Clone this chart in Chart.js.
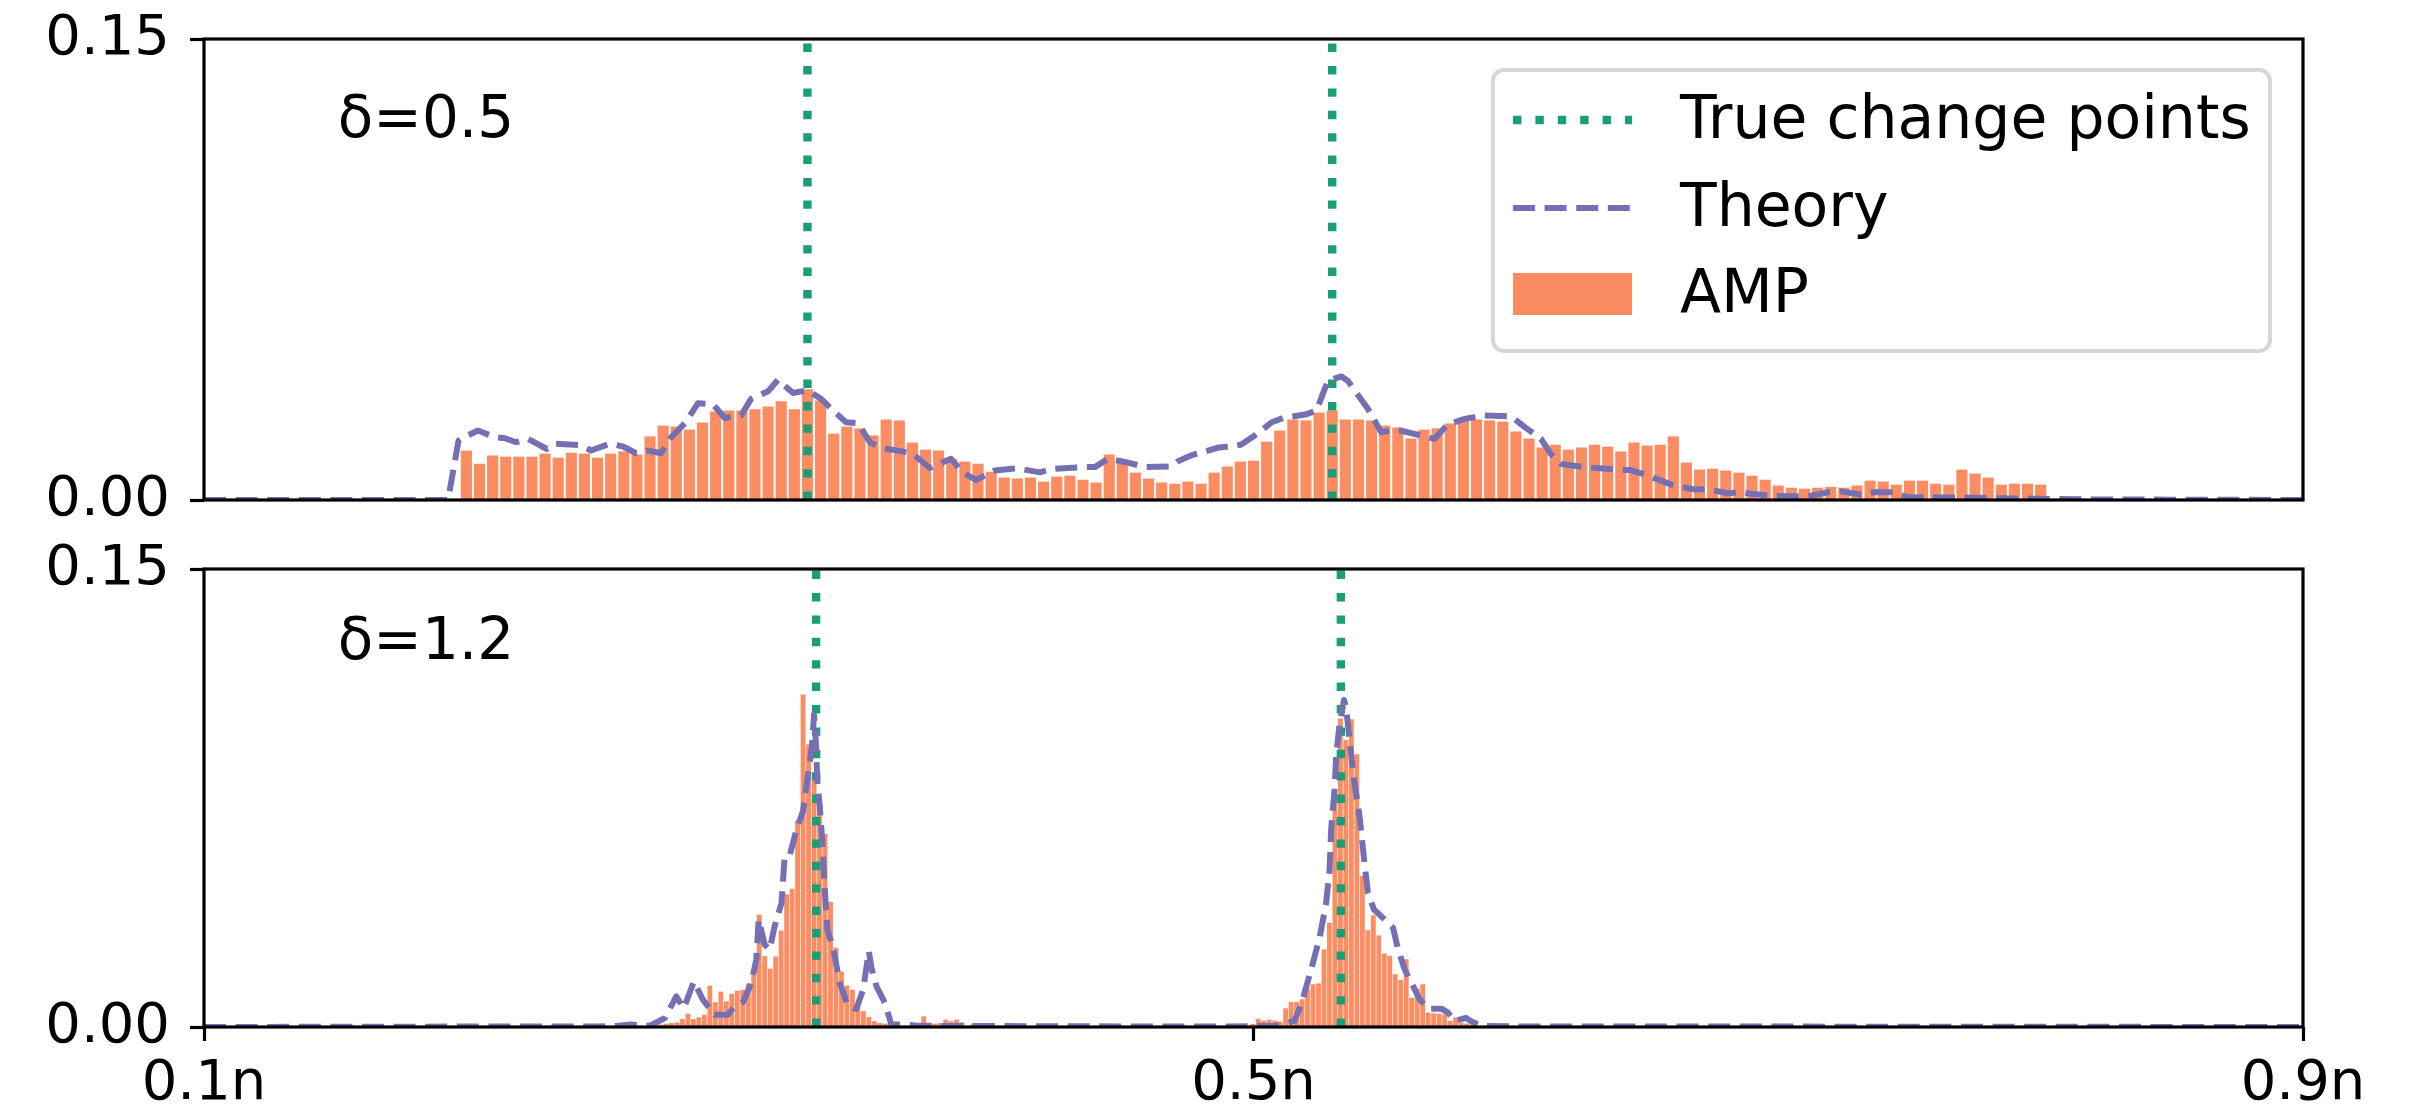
<!DOCTYPE html>
<html>
<head>
<meta charset="utf-8">
<script src="https://cdn.jsdelivr.net/npm/chart.js@4.4.0/dist/chart.umd.min.js"></script>
<style>
html, body { margin: 0; padding: 0; background: #fff; overflow: hidden; }
#wrap { position: relative; width: 2433px; height: 1115px; overflow: hidden; }
.panel { position: absolute; left: 0; width: 2433px; }
#top { top: -15px; height: 570px; }
#bottom { top: 515px; height: 600px; }
</style>
</head>
<body>
<div id="wrap">
  <div class="panel" id="top"><canvas id="topChart"></canvas></div>
  <div class="panel" id="bottom"><canvas id="bottomChart"></canvas></div>
</div>
<script>
// axis ticks
const xTickValues = [0.1, 0.5, 0.9];
const xTickLabels = ['0.1n', '0.5n', '0.9n'];
const yTickValues = [0, 0.15];
const yTickLabels = ['0.00', '0.15'];

// delta = 0.5 panel
const topChangePoints = [0.33, 0.53];
const topBinStart = 0.2;
const topBinWidth = 0.005;
const topAmp = [
  0.0161, 0.0118, 0.0145, 0.0141, 0.0141, 0.0141, 0.0151, 0.0138, 0.0154, 0.0151,
  0.0138, 0.0151, 0.0158, 0.0148, 0.0207, 0.0242, 0.0239, 0.0229, 0.0252, 0.0288,
  0.0291, 0.0291, 0.0295, 0.0304, 0.0321, 0.0295, 0.0360, 0.0324, 0.0216, 0.0239,
  0.0233, 0.0210, 0.0262, 0.0259, 0.0187, 0.0164, 0.0161, 0.0133, 0.0125, 0.0118,
  0.0092, 0.0073, 0.0070, 0.0073, 0.0060, 0.0076, 0.0079, 0.0066, 0.0057, 0.0148,
  0.0122, 0.0089, 0.0070, 0.0057, 0.0053, 0.0060, 0.0053, 0.0089, 0.0109, 0.0125,
  0.0128, 0.0190, 0.0226, 0.0262, 0.0259, 0.0285, 0.0291, 0.0262, 0.0262, 0.0259,
  0.0242, 0.0236, 0.0200, 0.0229, 0.0233, 0.0249, 0.0259, 0.0262, 0.0259, 0.0255,
  0.0223, 0.0200, 0.0171, 0.0180, 0.0164, 0.0171, 0.0180, 0.0174, 0.0158, 0.0187,
  0.0177, 0.0180, 0.0207, 0.0122, 0.0099, 0.0102, 0.0096, 0.0089, 0.0079, 0.0066,
  0.0047, 0.0040, 0.0037, 0.0040, 0.0043, 0.0040, 0.0047, 0.0063, 0.0060, 0.0050,
  0.0063, 0.0063, 0.0053, 0.0050, 0.0099, 0.0086, 0.0073, 0.0050, 0.0053, 0.0053,
  0.0050
];
const topTheoryX = [
  0.1, 0.193, 0.197, 0.199, 0.2044, 0.211, 0.2147, 0.219, 0.2235, 0.2307,
  0.234, 0.243, 0.2475, 0.2547, 0.2597, 0.2647, 0.2692, 0.2742, 0.278, 0.2833,
  0.2883, 0.294, 0.2985, 0.3047, 0.3085, 0.315, 0.3188, 0.3245, 0.330, 0.3352,
  0.339, 0.3447, 0.3492, 0.3538, 0.3576, 0.3656, 0.3702, 0.3766, 0.3847, 0.3892,
  0.3942, 0.4014, 0.4098, 0.4186, 0.4228, 0.435, 0.4395, 0.4445, 0.4514, 0.459,
  0.4685, 0.4712, 0.4762, 0.4864, 0.4952, 0.5005, 0.507, 0.5113, 0.5197, 0.524,
  0.5284, 0.5335, 0.536, 0.5436, 0.5486, 0.555, 0.5638, 0.569, 0.574, 0.5805,
  0.5874, 0.5983, 0.6034, 0.6096, 0.6133, 0.6172, 0.6263, 0.6305, 0.640, 0.6434,
  0.6477, 0.6554, 0.660, 0.6683, 0.6725, 0.6808, 0.6854, 0.6934, 0.6987, 0.7067,
  0.7113, 0.719, 0.724, 0.7316, 0.7368, 0.7444, 0.7494, 0.757, 0.762, 0.7705,
  0.78, 0.8, 0.82, 0.85, 0.9
];
const topTheoryY = [
  0, 0, 0.0193, 0.0204, 0.0226, 0.0204, 0.0201, 0.0188, 0.0199, 0.0166,
  0.0183, 0.0179, 0.0161, 0.0183, 0.0174, 0.0152, 0.0161, 0.0152, 0.0204, 0.0250,
  0.0315, 0.0311, 0.0267, 0.0275, 0.0329, 0.0354, 0.0391, 0.0348, 0.0357, 0.0329,
  0.0297, 0.0253, 0.0250, 0.0188, 0.0170, 0.0159, 0.0150, 0.0104, 0.0134, 0.0090,
  0.0065, 0.0096, 0.0103, 0.0090, 0.0101, 0.0107, 0.0107, 0.0134, 0.0123, 0.0107,
  0.0109, 0.0126, 0.0145, 0.0170, 0.0180, 0.0210, 0.0253, 0.0267, 0.0278, 0.0291,
  0.0389, 0.0402, 0.0387, 0.0297, 0.0221, 0.0228, 0.0210, 0.0199, 0.0246, 0.0264,
  0.0275, 0.0272, 0.0237, 0.0199, 0.0150, 0.0117, 0.0107, 0.0104, 0.0098, 0.0098,
  0.0087, 0.0063, 0.0047, 0.0034, 0.0036, 0.0022, 0.0025, 0.0017, 0.0013, 0.0012,
  0.0012, 0.0025, 0.0028, 0.0017, 0.0025, 0.0025, 0.0009, 0.0009, 0.0008, 0.0008,
  0.0006, 0.0004, 0.0002, 0.0001, 0
];

// delta = 1.2 panel
const bottomChangePoints = [0.3333, 0.5333];
const bottomBinWidth = 0.00209;
const bottomLeftStart = 0.2719;
const bottomLeftAmp = [
  0.0005, 0.0008, 0.0011, 0.0013, 0.0015, 0.0026, 0.0044, 0.0026, 0.0032, 0.0040,
  0.0135, 0.0081, 0.0116, 0.0084, 0.0109, 0.0119, 0.0122, 0.0142, 0.0183, 0.0368,
  0.0232, 0.0191, 0.0231, 0.0316, 0.0435, 0.0453, 0.0676, 0.1089, 0.0925, 0.0820,
  0.0740, 0.0633, 0.0410, 0.0260, 0.0182, 0.0136, 0.0122, 0.0068, 0.0052, 0.0033,
  0.0019, 0.0013, 0.0011, 0.0008, 0.0005, 0.0003, 0, 0, 0, 0.0035,
  0.0013, 0.0011, 0.0013, 0.0024, 0.0019, 0.0024, 0.0015, 0, 0.0011
];
const bottomRightStart = 0.4976;
const bottomRightAmp = [
  0.0005, 0.0010, 0.0027, 0.0021, 0.0024, 0.0021, 0.0018, 0.0061, 0.0082, 0.0082,
  0.0091, 0.0125, 0.0140, 0.0143, 0.0254, 0.0341, 0.0762, 0.1010, 0.0940, 0.1008,
  0.0893, 0.0495, 0.0317, 0.0366, 0.0300, 0.0241, 0.0233, 0.0173, 0.0154, 0.0222,
  0.0096, 0.0127, 0.0140, 0.0047, 0.0045, 0.0044, 0.0041, 0.0020, 0.0031, 0.0014,
  0.0011, 0.0008
];
const bottomTheoryX = [
  0.1, 0.25, 0.2578, 0.2627, 0.2699, 0.2756, 0.2800, 0.2829, 0.2867, 0.2902,
  0.2946, 0.2997, 0.3022, 0.3054, 0.3086, 0.3105, 0.3114, 0.3137, 0.3156, 0.3175,
  0.3201, 0.3213, 0.3232, 0.3258, 0.3283, 0.3305, 0.3317, 0.3325, 0.3330, 0.3338,
  0.3347, 0.3356, 0.3366, 0.3376, 0.3398, 0.3423, 0.3455, 0.3486, 0.3512, 0.3534,
  0.3544, 0.3563, 0.3595, 0.3620, 0.3671, 0.3721, 0.40, 0.45, 0.49, 0.5,
  0.508, 0.5156, 0.5182, 0.5220, 0.5252, 0.5277, 0.5290, 0.5296, 0.5309, 0.5315,
  0.5328, 0.5345, 0.5353, 0.5366, 0.5383, 0.5404, 0.5423, 0.5436, 0.5459, 0.5506,
  0.5532, 0.5551, 0.5576, 0.5602, 0.5633, 0.5665, 0.5716, 0.5741, 0.5767, 0.5809,
  0.5829, 0.5867, 0.60, 0.9
];
const bottomTheoryY = [
  0, 0.0002, 0.0004, 0.0008, 0.0004, 0.0029, 0.0100, 0.0062, 0.0149, 0.0089,
  0.0040, 0.0040, 0.0068, 0.0081, 0.0144, 0.0221, 0.0352, 0.0270, 0.0253, 0.0330,
  0.0406, 0.0557, 0.0561, 0.0646, 0.0707, 0.0843, 0.0919, 0.1023, 0.0974, 0.0799,
  0.0723, 0.0614, 0.0450, 0.0319, 0.0259, 0.0144, 0.0068, 0.0059, 0.0122, 0.0248,
  0.0194, 0.0133, 0.0079, 0.0008, 0.0008, 0.0004, 0.0003, 0.0002, 0.0002, 0.0003,
  0.0003, 0.0020, 0.0074, 0.0189, 0.0293, 0.0407, 0.0517, 0.0648, 0.0779, 0.0888,
  0.0992, 0.1071, 0.1046, 0.0942, 0.0811, 0.0691, 0.0538, 0.0440, 0.0385, 0.0347,
  0.0325, 0.0254, 0.0189, 0.0145, 0.0091, 0.0060, 0.0060, 0.0047, 0.0020, 0.0030,
  0.0019, 0.0004, 0.0002, 0
];

const GREEN = '#1b9e77';
const PURPLE = '#7570b3';
const ORANGE = '#fc8d62';
const FONT = '"DejaVu Sans"';

Chart.defaults.font.family = FONT;
Chart.defaults.color = '#000';

function binPoints(start, width, values) {
  return values.map((v, i) => ({ x: start + i * width, y: v }));
}

function buildDatasets(changePoints, bars, thX, thY, barPct) {
  const sets = [];
  changePoints.forEach(cp => {
    sets.push({
      type: 'line',
      label: 'True change points',
      data: [{ x: cp, y: yTickValues[0] }, { x: cp, y: yTickValues[1] }],
      borderColor: GREEN,
      borderWidth: 8.4,
      borderDash: [8.4, 14],
      borderCapStyle: 'butt',
      pointRadius: 0,
      order: 2
    });
  });
  sets.push({
    type: 'line',
    label: 'Theory',
    data: thX.map((x, i) => ({ x: x, y: thY[i] })),
    borderColor: PURPLE,
    borderWidth: 6,
    borderDash: [22, 9.6],
    borderCapStyle: 'butt',
    borderJoinStyle: 'round',
    pointRadius: 0,
    order: 1
  });
  sets.push({
    type: 'bar',
    label: 'AMP',
    data: bars,
    backgroundColor: ORANGE,
    borderWidth: 0,
    barPercentage: barPct,
    categoryPercentage: 1.0,
    order: 3
  });
  return sets;
}

function drawLegend(ctx, a) {
  const w = 777, h = 281;
  const x0 = a.right - 33 - w, y0 = a.top + 31;
  ctx.beginPath();
  ctx.roundRect(x0, y0, w, h, 11);
  ctx.fillStyle = 'rgba(255,255,255,0.8)';
  ctx.fill();
  ctx.lineWidth = 4;
  ctx.strokeStyle = '#d6d6d6';
  ctx.stroke();

  const rows = [y0 + 50, y0 + 138, y0 + 224];
  const hx0 = x0 + 20, hx1 = x0 + 139, tx = x0 + 187;

  ctx.lineCap = 'butt';
  ctx.strokeStyle = GREEN;
  ctx.lineWidth = 8.4;
  ctx.setLineDash([8.4, 14]);
  ctx.beginPath(); ctx.moveTo(hx0, rows[0]); ctx.lineTo(hx1, rows[0]); ctx.stroke();

  ctx.strokeStyle = PURPLE;
  ctx.lineWidth = 6;
  ctx.setLineDash([22, 9.6]);
  ctx.beginPath(); ctx.moveTo(hx0, rows[1]); ctx.lineTo(hx1, rows[1]); ctx.stroke();
  ctx.setLineDash([]);

  ctx.fillStyle = ORANGE;
  ctx.fillRect(hx0, rows[2] - 21, hx1 - hx0, 42);

  ctx.fillStyle = '#000';
  ctx.font = '60px ' + FONT;
  ctx.textBaseline = 'middle';
  ctx.textAlign = 'left';
  ['True change points', 'Theory', 'AMP'].forEach((t, i) => ctx.fillText(t, tx, rows[i] + 2));
}

const panelDecor = {
  id: 'panelDecor',
  afterDatasetsDraw(chart, args, opts) {
    const { ctx, chartArea: a, scales } = chart;
    ctx.save();
    ctx.strokeStyle = '#000';
    ctx.lineWidth = 3.2;
    ctx.setLineDash([]);
    ctx.strokeRect(a.left, a.top, a.right - a.left, a.bottom - a.top);

    ctx.fillStyle = '#000';
    ctx.font = '58px ' + FONT;
    ctx.textBaseline = 'alphabetic';
    ctx.textAlign = 'left';
    ctx.fillText(opts.label, scales.x.getPixelForValue(opts.at[0]), scales.y.getPixelForValue(opts.at[1]));

    if (opts.legend) drawLegend(ctx, a);
    ctx.restore();
  }
};

function makeChart(id, datasets, cfg) {
  const tickGrid = {
    display: true,
    drawOnChartArea: false,
    drawTicks: true,
    offset: false,
    tickLength: 14,
    tickWidth: 3.2,
    tickColor: '#000',
    color: '#000'
  };
  return new Chart(document.getElementById(id), {
    type: 'bar',
    data: { datasets: datasets },
    options: {
      responsive: true,
      maintainAspectRatio: false,
      animation: false,
      events: [],
      layout: { padding: cfg.padding },
      plugins: {
        legend: { display: false },
        tooltip: { enabled: false },
        panelDecor: { label: cfg.label, at: cfg.labelAt, legend: cfg.legend }
      },
      scales: {
        x: {
          type: 'linear',
          min: xTickValues[0],
          max: xTickValues[xTickValues.length - 1],
          offset: false,
          display: cfg.showX,
          grid: tickGrid,
          border: { display: false },
          afterBuildTicks: s => { s.ticks = xTickValues.map(v => ({ value: v })); },
          afterFit: s => { if (cfg.showX) s.height = 88; },
          ticks: {
            autoSkip: false,
            maxRotation: 0,
            padding: 10,
            font: { size: 56, family: FONT },
            color: '#000',
            callback: v => xTickLabels[xTickValues.indexOf(v)]
          }
        },
        y: {
          type: 'linear',
          min: yTickValues[0],
          max: yTickValues[yTickValues.length - 1],
          grid: tickGrid,
          border: { display: false },
          afterBuildTicks: s => { s.ticks = yTickValues.map(v => ({ value: v })); },
          afterFit: s => { s.width = 204; },
          ticks: {
            padding: 20,
            font: { size: 56, family: FONT },
            color: '#000',
            callback: v => yTickLabels[yTickValues.indexOf(v)]
          }
        }
      }
    },
    plugins: [panelDecor]
  });
}

const topBars = binPoints(topBinStart, topBinWidth, topAmp);
const bottomBars = binPoints(bottomLeftStart, bottomBinWidth, bottomLeftAmp)
  .concat(binPoints(bottomRightStart, bottomBinWidth, bottomRightAmp));

makeChart('topChart',
  buildDatasets(topChangePoints, topBars, topTheoryX, topTheoryY, 0.85),
  { padding: { top: 54, right: 130, bottom: 55, left: 0 }, showX: false,
    label: 'δ=0.5', labelAt: [0.151, 0.1181], legend: true });

makeChart('bottomChart',
  buildDatasets(bottomChangePoints, bottomBars, bottomTheoryX, bottomTheoryY, 0.88),
  { padding: { top: 54, right: 130, bottom: 0, left: 0 }, showX: true,
    label: 'δ=1.2', labelAt: [0.151, 0.1204], legend: false });
</script>
</body>
</html>
